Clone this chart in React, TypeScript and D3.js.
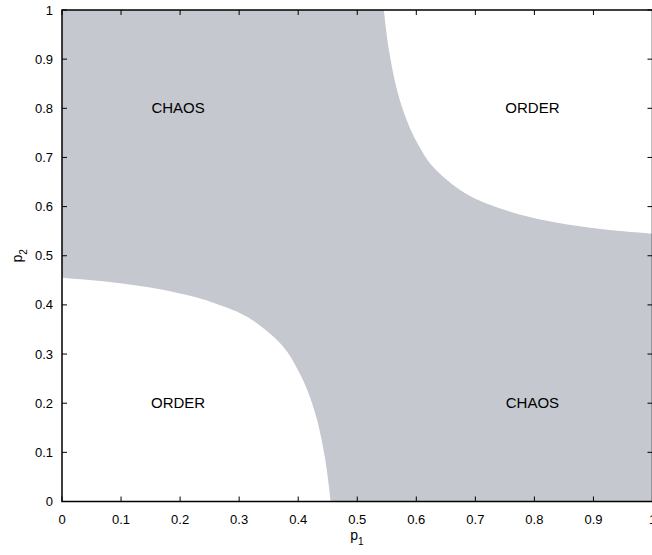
import React from 'react';
import * as d3 from 'd3';

// boundary of the lower-left ORDER region (p1, p2)
const lowerP1 = [0, 0.084, 0.166, 0.222, 0.25, 0.28, 0.3, 0.32, 0.347, 0.371, 0.384, 0.394, 0.407, 0.417, 0.432, 0.446, 0.455];
const lowerP2 = [0.455, 0.446, 0.432, 0.417, 0.407, 0.394, 0.384, 0.371, 0.347, 0.32, 0.3, 0.28, 0.25, 0.222, 0.166, 0.084, 0];

// boundary of the upper-right ORDER region (p1, p2)
const upperP1 = [0.545, 0.554, 0.568, 0.583, 0.593, 0.606, 0.616, 0.629, 0.653, 0.68, 0.7, 0.72, 0.75, 0.778, 0.834, 0.916, 1];
const upperP2 = [1, 0.916, 0.834, 0.778, 0.75, 0.72, 0.7, 0.68, 0.653, 0.629, 0.616, 0.606, 0.593, 0.583, 0.568, 0.554, 0.545];

const ticks = [0, 0.1, 0.2, 0.3, 0.4, 0.5, 0.6, 0.7, 0.8, 0.9, 1];
const tickLabels = ['0', '0.1', '0.2', '0.3', '0.4', '0.5', '0.6', '0.7', '0.8', '0.9', '1'];

const regionLabels = [
  { text: 'CHAOS', p1: 0.2, p2: 0.8 },
  { text: 'ORDER', p1: 0.8, p2: 0.8 },
  { text: 'ORDER', p1: 0.2, p2: 0.2 },
  { text: 'CHAOS', p1: 0.8, p2: 0.2 },
];

const W = 652;
const H = 555;
const font = 'Liberation Sans, Arial, Helvetica, sans-serif';

export default function App() {
  const x = d3.scaleLinear().domain([0, 1]).range([62, 652.5]);
  const y = d3.scaleLinear().domain([0, 1]).range([501.5, 10]);

  const lower = lowerP1.map((p, i) => [p, lowerP2[i]] as [number, number]);
  const upper = upperP1.map((p, i) => [p, upperP2[i]] as [number, number]);

  const curve = d3.line<[number, number]>()
    .x(d => x(d[0]))
    .y(d => y(d[1]))
    .curve(d3.curveCatmullRom.alpha(0.5));

  // close the white regions through the plot corners
  const lowerPath = `${curve(lower)}L${x(0)},${y(0)}Z`;
  const upperPath = `${curve(upper)}L${x(1)},${y(1)}Z`;

  const tl = 5;

  return (
    <svg width={W} height={H} style={{ position: 'absolute', left: 0, top: 0, background: '#fff' }}>
      <rect x={x(0)} y={y(1)} width={x(1) - x(0)} height={y(0) - y(1)} fill="#c6c8cf" />
      <path d={lowerPath} fill="#fff" />
      <path d={upperPath} fill="#fff" />

      {/* frame */}
      <rect x={x(0)} y={y(1)} width={x(1) - x(0)} height={y(0) - y(1)} fill="none" stroke="#000" strokeWidth={1.5} />

      {ticks.map((t, i) => (
        <g key={i} stroke="#000" strokeWidth={1}>
          <line x1={x(t)} x2={x(t)} y1={y(0)} y2={y(0) - tl} />
          <line x1={x(t)} x2={x(t)} y1={y(1)} y2={y(1) + tl} />
          <line x1={x(0)} x2={x(0) + tl} y1={y(t)} y2={y(t)} />
          <line x1={x(1)} x2={x(1) - tl} y1={y(t)} y2={y(t)} />
        </g>
      ))}

      {ticks.map((t, i) => (
        <text key={'x' + i} x={x(t)} y={y(0) + 22} textAnchor="middle" fontFamily={font} fontSize={13}>
          {tickLabels[i]}
        </text>
      ))}
      {ticks.map((t, i) => (
        <text key={'y' + i} x={x(0) - 9} y={y(t) + 4.5} textAnchor="end" fontFamily={font} fontSize={13}>
          {tickLabels[i]}
        </text>
      ))}

      {regionLabels.map((r, i) => (
        <text key={'r' + i} x={x(r.p1) - 2} y={y(r.p2) + 5} textAnchor="middle" fontFamily={font} fontSize={15}>
          {r.text}
        </text>
      ))}

      <text x={357} y={540} textAnchor="middle" fontFamily={font} fontSize={14}>
        p<tspan fontSize={10} dy={5}>1</tspan>
      </text>
      <text transform={`translate(22,${(y(0) + y(1)) / 2}) rotate(-90)`} textAnchor="middle" fontFamily={font} fontSize={14}>
        p<tspan fontSize={10} dy={5}>2</tspan>
      </text>
    </svg>
  );
}
